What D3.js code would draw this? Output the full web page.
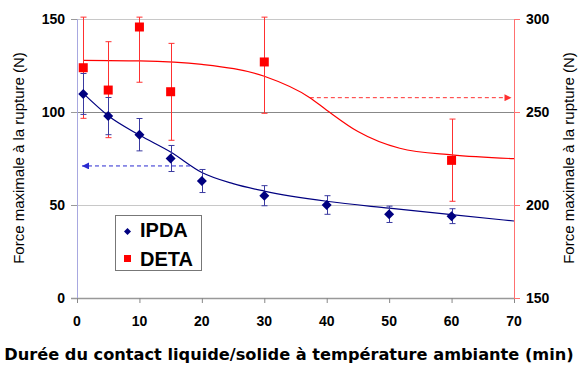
<!DOCTYPE html>
<html>
<head>
<meta charset="utf-8">
<script src="https://cdn.jsdelivr.net/npm/d3@7"></script>
<style>
  body { margin: 0; background: #fff; }
  svg { display: block; }
</style>
</head>
<body>
<div id="chart"></div>
<script>
// IPDA (left axis): time, force, error
const ipdaX = [1, 5, 10, 15, 20, 30, 40, 50, 60];
const ipdaY = [109.7, 97.8, 87.8, 75, 62.9, 55, 50, 45, 44];
const ipdaErr = [11, 10, 8.7, 7, 6.2, 5.4, 5, 4.4, 4];

// DETA (right axis): time, force, error bounds
const detaX = [1, 5, 10, 15, 30, 60];
const detaY = [273.8, 261.8, 295.7, 260.9, 276.9, 224];
const detaLo = [246.6, 236.2, 266, 234.8, 249.3, 202];
const detaHi = [301, 287.8, 301, 286.9, 301, 246.2];

// fitted trend lines
const ipdaFitX = [1, 5, 10, 15, 20, 25, 30, 40, 50, 60, 70];
const ipdaFitY = [110, 98, 87.6, 78.5, 67.5, 61.5, 57.5, 52, 48.3, 44.8, 41.4];
const detaFitX = [1, 10, 20, 30, 37.3, 40, 45, 51.7, 60, 70];
const detaFitY = [277.8, 277.5, 275.6, 269.2, 257.7, 251, 239.5, 230.5, 226.9, 224.9];

// axis ticks
const xTicks = [0, 10, 20, 30, 40, 50, 60, 70];
const leftTicks = [0, 50, 100, 150];
const rightTicks = [150, 200, 250, 300];

// dashed arrows pointing at each series' axis
const arrowIpda = { from: 18.1, to: 0.8, y: 71 };
const arrowDeta = { from: 37.3, to: 69.6, y: 257.7 };

const width = 578;
const height = 365;

const x = d3.scaleLinear().domain([0, 70]).range([77, 514]);
const yL = d3.scaleLinear().domain([0, 150]).range([298, 19]);
const yR = d3.scaleLinear().domain([150, 300]).range([298, 19]);

const BLUE = '#000080';
const BLUE_ERR = '#3a3aa0';
const RED = '#ff0000';
const RED_ERR = '#ff3030';

const svg = d3.select('#chart')
  .append('svg')
  .attr('width', width)
  .attr('height', height)
  .style('font-family', '"Liberation Sans", Arial, sans-serif');

const defs = svg.append('defs');
[['arrow-blue', '#2a2ad0'], ['arrow-red', '#ff3030']].forEach(([id, c]) => {
  defs.append('marker')
    .attr('id', id)
    .attr('viewBox', '0 0 10 10')
    .attr('refX', 10)
    .attr('refY', 5)
    .attr('markerWidth', 9)
    .attr('markerHeight', 7)
    .attr('markerUnits', 'userSpaceOnUse')
    .attr('orient', 'auto')
    .append('path')
    .attr('d', 'M0,0L10,5L0,10Z')
    .attr('fill', c);
});

// gridlines
svg.append('g')
  .selectAll('line')
  .data(leftTicks.filter((d) => d > 0))
  .join('line')
  .attr('x1', x(0))
  .attr('x2', x(70))
  .attr('y1', (d) => yL(d) + 0.5)
  .attr('y2', (d) => yL(d) + 0.5)
  .attr('stroke', (d) => (d === 100 ? '#888' : '#c8c8c8'))
  .attr('stroke-width', 1);

// x axis
svg.append('line')
  .attr('x1', x(0) - 6)
  .attr('x2', x(70))
  .attr('y1', yL(0) + 0.5)
  .attr('y2', yL(0) + 0.5)
  .attr('stroke', '#999')
  .attr('stroke-width', 1.5);

svg.append('g')
  .selectAll('line')
  .data(xTicks)
  .join('line')
  .attr('x1', (d) => x(d) + 0.5)
  .attr('x2', (d) => x(d) + 0.5)
  .attr('y1', yL(0))
  .attr('y2', yL(0) + 5)
  .attr('stroke', '#888');

svg.append('g')
  .selectAll('text')
  .data(xTicks)
  .join('text')
  .attr('x', (d) => x(d))
  .attr('y', 326)
  .attr('text-anchor', 'middle')
  .attr('font-size', 14)
  .attr('font-weight', 'bold')
  .text((d) => d);

// left axis
svg.append('line')
  .attr('x1', x(0) + 0.5)
  .attr('x2', x(0) + 0.5)
  .attr('y1', yL(150))
  .attr('y2', yL(0))
  .attr('stroke', '#a8a8e0');

svg.append('g')
  .selectAll('line')
  .data(leftTicks)
  .join('line')
  .attr('x1', x(0) - 6)
  .attr('x2', x(0))
  .attr('y1', (d) => yL(d) + 0.5)
  .attr('y2', (d) => yL(d) + 0.5)
  .attr('stroke', '#999');

svg.append('g')
  .selectAll('text')
  .data(leftTicks)
  .join('text')
  .attr('x', 65)
  .attr('y', (d) => yL(d) + 5)
  .attr('text-anchor', 'end')
  .attr('font-size', 14)
  .attr('font-weight', 'bold')
  .text((d) => d);

// right axis
svg.append('line')
  .attr('x1', x(70) + 0.5)
  .attr('x2', x(70) + 0.5)
  .attr('y1', yR(300))
  .attr('y2', yR(150))
  .attr('stroke', '#ff7070');

svg.append('g')
  .selectAll('line')
  .data(rightTicks)
  .join('line')
  .attr('x1', x(70))
  .attr('x2', x(70) + 6)
  .attr('y1', (d) => yR(d) + 0.5)
  .attr('y2', (d) => yR(d) + 0.5)
  .attr('stroke', '#ff7070');

svg.append('g')
  .selectAll('text')
  .data(rightTicks)
  .join('text')
  .attr('x', 526)
  .attr('y', (d) => yR(d) + 5)
  .attr('font-size', 14)
  .attr('font-weight', 'bold')
  .text((d) => d);

// axis titles
svg.append('text')
  .attr('transform', 'translate(24,158) rotate(-90)')
  .attr('text-anchor', 'middle')
  .attr('font-size', 15)
  .text('Force maximale à la rupture (N)');

svg.append('text')
  .attr('transform', 'translate(574,158) rotate(-90)')
  .attr('text-anchor', 'middle')
  .attr('font-size', 15)
  .text('Force maximale à la rupture (N)');

svg.append('text')
  .attr('x', 289)
  .attr('y', 360)
  .attr('text-anchor', 'middle')
  .attr('font-family', '"DejaVu Sans", Verdana, sans-serif')
  .attr('font-size', 16.2)
  .attr('font-weight', 'bold')
  .text('Durée du contact liquide/solide à température ambiante (min)');

// trend curves
const ipdaFit = ipdaFitX.map((d, i) => [d, ipdaFitY[i]]);
const detaFit = detaFitX.map((d, i) => [d, detaFitY[i]]);

svg.append('path')
  .datum(detaFit)
  .attr('fill', 'none')
  .attr('stroke', RED)
  .attr('stroke-width', 1.2)
  .attr('d', d3.line().x((d) => x(d[0])).y((d) => yR(d[1])).curve(d3.curveMonotoneX));

svg.append('path')
  .datum(ipdaFit)
  .attr('fill', 'none')
  .attr('stroke', BLUE)
  .attr('stroke-width', 1.2)
  .attr('d', d3.line().x((d) => x(d[0])).y((d) => yL(d[1])).curve(d3.curveMonotoneX));

// dashed arrows
svg.append('line')
  .attr('x1', x(arrowIpda.from))
  .attr('x2', x(arrowIpda.to))
  .attr('y1', yL(arrowIpda.y))
  .attr('y2', yL(arrowIpda.y))
  .attr('stroke', '#2a2ad0')
  .attr('stroke-dasharray', '4,3')
  .attr('marker-end', 'url(#arrow-blue)');

svg.append('line')
  .attr('x1', x(arrowDeta.from))
  .attr('x2', x(arrowDeta.to))
  .attr('y1', yR(arrowDeta.y))
  .attr('y2', yR(arrowDeta.y))
  .attr('stroke', '#ff3030')
  .attr('stroke-dasharray', '4,3')
  .attr('marker-end', 'url(#arrow-red)');

// DETA error bars + squares
const deta = detaX.map((d, i) => ({
  x: d, y: detaY[i], lo: detaLo[i], hi: detaHi[i],
}));

const gDeta = svg.append('g');
gDeta.selectAll('.bar')
  .data(deta)
  .join('path')
  .attr('class', 'bar')
  .attr('fill', 'none')
  .attr('stroke', RED_ERR)
  .attr('d', (d) => {
    const cx = Math.round(x(d.x)) + 0.5;
    const t = yR(d.hi);
    const b = yR(d.lo);
    return `M${cx},${t}V${b}M${cx - 3},${t}H${cx + 3}M${cx - 3},${b}H${cx + 3}`;
  });

gDeta.selectAll('rect')
  .data(deta)
  .join('rect')
  .attr('x', (d) => x(d.x) - 4.5)
  .attr('y', (d) => yR(d.y) - 4.5)
  .attr('width', 9)
  .attr('height', 9)
  .attr('fill', RED);

// IPDA error bars + diamonds
const ipda = ipdaX.map((d, i) => ({ x: d, y: ipdaY[i], e: ipdaErr[i] }));

const gIpda = svg.append('g');
gIpda.selectAll('.bar')
  .data(ipda)
  .join('path')
  .attr('class', 'bar')
  .attr('fill', 'none')
  .attr('stroke', BLUE_ERR)
  .attr('d', (d) => {
    const cx = Math.round(x(d.x)) + 0.5;
    const t = yL(d.y + d.e);
    const b = yL(d.y - d.e);
    return `M${cx},${t}V${b}M${cx - 3},${t}H${cx + 3}M${cx - 3},${b}H${cx + 3}`;
  });

gIpda.selectAll('.dot')
  .data(ipda)
  .join('path')
  .attr('class', 'dot')
  .attr('transform', (d) => `translate(${x(d.x)},${yL(d.y)})`)
  .attr('d', 'M0,-5L5,0L0,5L-5,0Z')
  .attr('fill', BLUE);

// legend
const legend = svg.append('g').attr('transform', 'translate(115.5,215.5)');
legend.append('rect')
  .attr('width', 86)
  .attr('height', 55)
  .attr('fill', '#fff')
  .attr('stroke', '#777');
legend.append('path')
  .attr('transform', 'translate(12,16)')
  .attr('d', 'M0,-3.5L3.5,0L0,3.5L-3.5,0Z')
  .attr('fill', BLUE);
legend.append('rect')
  .attr('x', 8.5)
  .attr('y', 39.5)
  .attr('width', 7)
  .attr('height', 7)
  .attr('fill', RED);
legend.selectAll('text')
  .data(['IPDA', 'DETA'])
  .join('text')
  .attr('x', 24.5)
  .attr('y', (d, i) => 21.5 + i * 28.5)
  .attr('font-size', 20)
  .attr('font-weight', 'bold')
  .text((d) => d);
</script>
</body>
</html>
